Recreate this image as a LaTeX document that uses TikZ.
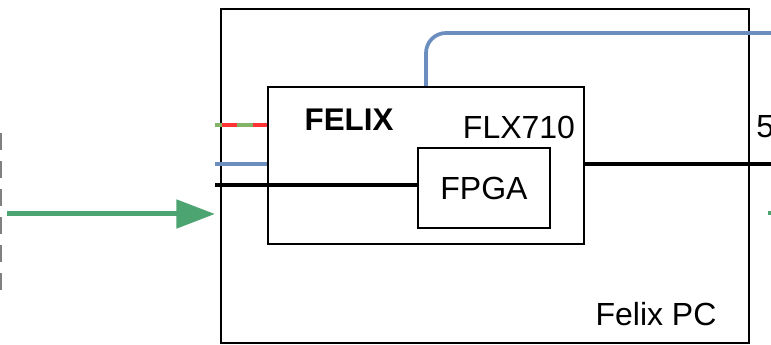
\documentclass[tikz,border=0pt]{standalone}
\usepackage{fontspec}
\setmainfont{Liberation Sans}
\usetikzlibrary{arrows.meta, positioning}
\definecolor{linkGreen}{RGB}{76,164,112}
\definecolor{fiberBlue}{RGB}{108,142,191}
\definecolor{ttcRed}{RGB}{255,51,51}
\definecolor{ttcGreen}{RGB}{130,179,102}
\definecolor{edgeGray}{RGB}{128,128,128}

\begin{document}
\begin{tikzpicture}[
  x=0.75pt, y=-0.75pt,
  box/.style={rectangle, draw=black, line width=1.5pt, inner sep=0pt},
  lbl/.style={inner sep=0pt, font=\fontsize{24}{28}\selectfont},
  thickline/.style={draw=black, line width=3pt},
  fibre/.style={draw=fiberBlue, line width=2.8pt},
  arr/.style={-{Triangle[length=29pt, width=21pt]}, draw=linkGreen, line width=3.75pt},
]
\useasboundingbox (0,0) rectangle (771,345);

%% Boxes
\node[box, minimum width=396pt, minimum height=250.5pt] (pc)    at (485,176)   {};
\node[box, minimum width=237pt, minimum height=117.75pt, fill=white] (felix) at (426,165.5) {};
\node[box, minimum width=99pt,  minimum height=60pt, fill=white]     (fpga)  at (484,188)   {};

%% Labels
\node[lbl, font=\fontsize{23.5}{27}\selectfont\bfseries] (felixlbl) at (349,120) {FELIX};
\node[lbl] (flxlbl)  at (519,127) {FLX710};
\node[lbl] (fpgalbl) at (fpga)    {FPGA};
\node[lbl] (pclbl)   at (656,314) {Felix PC};
\node[lbl, anchor=west] (cutlbl) at (756,127) {5};

%% Ends
\coordinate (inttc)   at (215,125);
\coordinate (inblue)  at (215,164);
\coordinate (inblack) at (215,185);
\coordinate (outblue) at (771,33);
\coordinate (outblack) at (771,164);
\coordinate (arrstart) at (7,214);
\coordinate (arrend)  at (215,214);
\coordinate (tickA)   at (768,213);
\coordinate (tickB)   at (771,213);
\coordinate (gapA)    at (1,133);
\coordinate (gapB)    at (1,297);

%% Connectors
\draw[thickline] (inblack) -- (inblack -| fpga.west);
\draw[thickline] (felix.east |- outblack) -- (outblack);
\draw[fibre] (inblue) -- (inblue -| felix.west);
\draw[fibre, rounded corners=15pt] (felix.north) |- (outblue);
\draw[draw=ttcGreen, line width=2.8pt] (inttc) -- (inttc -| felix.west);
\draw[draw=ttcRed, line width=2.8pt, dash pattern=on 11.25pt off 12pt]
  ([xshift=5.25pt]inttc) -- (inttc -| felix.west);
\draw[arr] (arrstart) -- (arrend);
\draw[draw=linkGreen, line width=3pt] (tickA) -- (tickB);
\draw[draw=edgeGray, line width=1.5pt, dash pattern=on 12.75pt off 8.25pt] (gapA) -- (gapB);
\end{tikzpicture}
\end{document}
